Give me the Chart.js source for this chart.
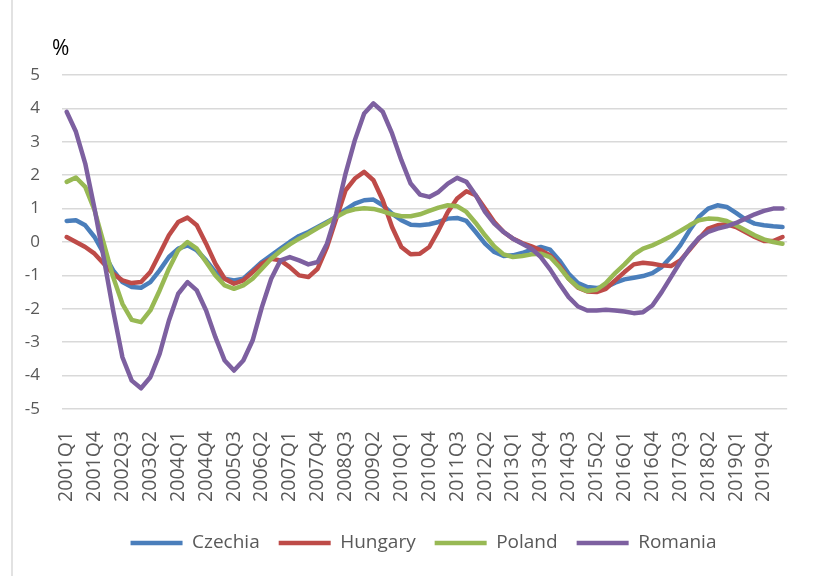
<!DOCTYPE html>
<html lang="en">
<head>
    <meta charset="UTF-8">
    <title>Czechia, Hungary, Poland, Romania</title>
    <script src="https://cdn.jsdelivr.net/npm/chart.js"></script>
    <style>
        body { margin: 0; background: #fff; }
        #wrap { width: 820px; height: 576px; }
    </style>
</head>
<body>
    <div id="wrap"><canvas id="myChart"></canvas></div>
    <script>
        // quarters 2001Q1 .. 2020Q2
        const firstYear = 2001
        const nQuarters = 78
        let quarters = []
        for (let i = 0; i < nQuarters; i++) {
            quarters.push((firstYear + Math.floor(i / 4)) + 'Q' + (i % 4 + 1))
        }

        const czechia = [0.63, 0.65, 0.5, 0.15, -0.35, -0.85, -1.2, -1.35, -1.37, -1.2,
            -0.85, -0.45, -0.2, -0.1, -0.25, -0.55, -0.9, -1.1, -1.15, -1.1,
            -0.85, -0.6, -0.4, -0.2, 0.0, 0.18, 0.3, 0.45, 0.6, 0.75,
            0.97, 1.15, 1.25, 1.27, 1.1, 0.85, 0.65, 0.52, 0.5, 0.53,
            0.6, 0.7, 0.72, 0.63, 0.3, -0.05, -0.3, -0.42, -0.4, -0.33,
            -0.23, -0.15, -0.23, -0.55, -0.95, -1.23, -1.35, -1.38, -1.35, -1.22,
            -1.12, -1.07, -1.02, -0.93, -0.75, -0.45, -0.1, 0.35, 0.75, 1.0,
            1.1, 1.05, 0.87, 0.68, 0.55, 0.5, 0.47, 0.45]
        const hungary = [0.15, 0.0, -0.15, -0.35, -0.65, -0.95, -1.15, -1.23, -1.2, -0.9,
            -0.35, 0.2, 0.6, 0.73, 0.5, -0.05, -0.65, -1.1, -1.25, -1.15,
            -0.9, -0.65, -0.5, -0.55, -0.75, -1.0, -1.05, -0.8, -0.15, 0.7,
            1.55, 1.9, 2.1, 1.85, 1.25, 0.45, -0.15, -0.37, -0.35, -0.15,
            0.35, 0.9, 1.3, 1.52, 1.4, 1.0, 0.6, 0.3, 0.1, -0.03,
            -0.13, -0.25, -0.4, -0.7, -1.1, -1.37, -1.48, -1.5, -1.4, -1.15,
            -0.9, -0.67, -0.62, -0.65, -0.7, -0.72, -0.55, -0.23, 0.1, 0.4,
            0.5, 0.53, 0.45, 0.3, 0.15, 0.03, 0.03, 0.15]
        const poland = [1.8, 1.93, 1.65, 0.95, -0.05, -1.05, -1.85, -2.33, -2.4, -2.05,
            -1.45, -0.8, -0.25, 0.0, -0.2, -0.6, -1.0, -1.3, -1.4, -1.3,
            -1.1, -0.8, -0.5, -0.27, -0.07, 0.1, 0.25, 0.42, 0.57, 0.75,
            0.9, 0.98, 1.01, 0.99, 0.92, 0.83, 0.77, 0.77, 0.83, 0.93,
            1.03, 1.1, 1.07, 0.9, 0.57, 0.2, -0.13, -0.37, -0.45, -0.42,
            -0.37, -0.35, -0.45, -0.75, -1.1, -1.35, -1.47, -1.43, -1.23, -0.93,
            -0.67, -0.38, -0.2, -0.1, 0.03, 0.17, 0.33, 0.5, 0.65, 0.7,
            0.69, 0.63, 0.5, 0.35, 0.2, 0.08, 0.0, -0.05]
        const romania = [3.9, 3.3, 2.35, 1.0, -0.5, -2.05, -3.45, -4.15, -4.38, -4.05,
            -3.35, -2.35, -1.55, -1.2, -1.45, -2.05, -2.85, -3.55, -3.85, -3.55,
            -2.95, -1.95, -1.1, -0.55, -0.45, -0.55, -0.67, -0.6, -0.05, 0.85,
            2.05, 3.05, 3.85, 4.15, 3.9, 3.25, 2.45, 1.75, 1.42, 1.35,
            1.5, 1.75, 1.92, 1.8, 1.4, 0.9, 0.55, 0.3, 0.1, -0.05,
            -0.2, -0.45, -0.82, -1.25, -1.65, -1.93, -2.05, -2.05, -2.03, -2.05,
            -2.08, -2.13, -2.1, -1.9, -1.5, -1.05, -0.6, -0.2, 0.12, 0.3,
            0.4, 0.47, 0.57, 0.7, 0.83, 0.93, 1.0, 1.0]

        const font = '"Open Sans", sans-serif'
        const textColor = '#595959'

        function series(name, values, color, order) {
            return {
                label: name,
                data: values,
                borderColor: color,
                backgroundColor: color,
                borderWidth: 4.5,
                pointRadius: 0,
                tension: 0,
                fill: false,
                borderJoinStyle: 'round',
                borderCapStyle: 'round',
                order: order
            }
        }

        // "%" above the axis, the thin frame line on the left, legend nudged right
        const extras = {
            id: 'extras',
            afterLayout(chart) {
                chart.legend.left += 10
                chart.legend.right += 10
            },
            beforeDraw(chart) {
                const c = chart.ctx
                c.save()
                c.strokeStyle = '#d9d9d9'
                c.lineWidth = 1.5
                c.beginPath()
                c.moveTo(12, 0)
                c.lineTo(12, chart.height)
                c.stroke()
                c.restore()
            },
            afterDraw(chart) {
                const c = chart.ctx
                const a = chart.chartArea
                c.save()
                c.font = '21px ' + font
                c.fillStyle = '#000'
                c.textAlign = 'left'
                c.textBaseline = 'alphabetic'
                c.fillText('%', a.left - 10, a.top - 20)
                c.restore()
            }
        }

        const ctx = document.getElementById('myChart').getContext('2d')
        const myChart = new Chart(ctx, {
            type: 'line',
            data: {
                labels: quarters,
                datasets: [
                    series('Czechia', czechia, '#4a7ebb', 3),
                    series('Hungary', hungary, '#be4b48', 2),
                    series('Poland', poland, '#98b954', 1),
                    series('Romania', romania, '#7d60a0', 0)
                ]
            },
            options: {
                responsive: true,
                maintainAspectRatio: false,
                animation: false,
                devicePixelRatio: 1,
                layout: { padding: { left: 20, right: 13, top: 75, bottom: 13.5 } },
                plugins: {
                    tooltip: { enabled: false },
                    legend: {
                        position: 'bottom',
                        labels: {
                            usePointStyle: true,
                            pointStyle: 'line',
                            pointStyleWidth: 52,
                            padding: 19,
                            color: textColor,
                            font: { family: font, size: 19 },
                            sort: (a, b) => a.datasetIndex - b.datasetIndex
                        }
                    }
                },
                scales: {
                    x: {
                        offset: true,
                        grid: { display: false },
                        border: { display: false },
                        ticks: {
                            autoSkip: false,
                            minRotation: 90,
                            maxRotation: 90,
                            padding: 14,
                            color: textColor,
                            font: { family: font, size: 19.5 },
                            callback: function (val, idx) {
                                return idx % 3 === 0 ? this.getLabelForValue(val) : ''
                            }
                        },
                        afterFit: function (scale) { scale.height = 105.5 }
                    },
                    y: {
                        min: -5,
                        max: 5,
                        grid: { color: '#d9d9d9', lineWidth: 1.5, drawTicks: false },
                        border: { display: false },
                        ticks: {
                            stepSize: 1,
                            padding: 22,
                            color: textColor,
                            font: { family: font, size: 17 }
                        },
                        afterFit: function (scale) { scale.width = 42 }
                    }
                }
            },
            plugins: [extras]
        })
    </script>
</body>
</html>
